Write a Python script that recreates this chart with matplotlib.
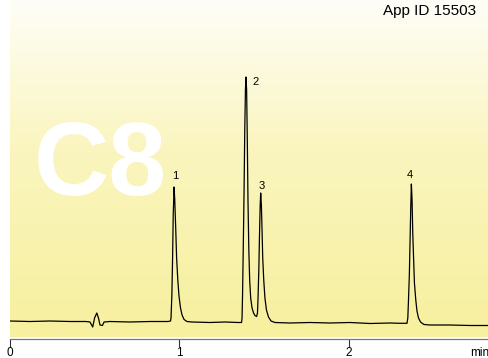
import numpy as np
import matplotlib
matplotlib.use("Agg")
import matplotlib.pyplot as plt
from matplotlib.colors import LinearSegmentedColormap

plt.rcParams['font.family'] = ['Liberation Sans', 'DejaVu Sans']

# chromatogram trace: time (min) and detector signal (arbitrary units)
time_min = [0.000, 0.118, 0.236, 0.354, 0.448, 0.472, 0.488, 0.499, 0.512, 0.522,
            0.531, 0.545, 0.555, 0.590, 0.708, 0.826, 0.932, 0.947,
            0.950, 0.955, 0.959, 0.963, 0.968, 0.972, 0.978, 0.983, 0.990, 0.997,
            1.006, 1.015, 1.027, 1.044, 1.074, 1.180, 1.268, 1.345, 1.366,
            1.369, 1.372, 1.376, 1.381, 1.385, 1.389, 1.392, 1.396, 1.400, 1.404,
            1.409, 1.414, 1.420, 1.428, 1.437, 1.445, 1.455, 1.460,
            1.463, 1.468, 1.472, 1.476, 1.479, 1.483, 1.487, 1.491, 1.497, 1.504,
            1.513, 1.525, 1.540, 1.563, 1.652, 1.770, 1.888, 2.006, 2.124, 2.242,
            2.301, 2.342,
            2.347, 2.351, 2.356, 2.360, 2.364, 2.368, 2.372, 2.376, 2.381, 2.386,
            2.394, 2.401, 2.410, 2.422, 2.442, 2.478, 2.596, 2.714, 2.826]
signal = [16, 15.5, 16, 15.5, 15.5, 15, 10, 19, 24, 19,
          12, 11.5, 15, 15.5, 15, 15.5, 15.5, 16,
          19, 42, 77, 122, 150, 137, 107, 79, 57, 41,
          29, 22, 17.5, 15.5, 15, 14.5, 15, 14.5, 14.5,
          19, 42, 87, 147, 207, 247, 260, 247, 197, 137,
          87, 57, 39, 29, 24, 21.5, 20.5, 24,
          37, 67, 102, 132, 144, 132, 107, 79, 57, 39,
          27, 20, 16, 14.5, 14, 14.5, 14, 14.5, 13.5, 14,
          13.7, 13.7,
          19, 37, 62, 94, 127, 153, 137, 105, 79, 54,
          37, 26, 19, 15, 12.5, 12, 12, 11.5, 11.5]

# peak labels
peak_names = ["1", "2", "3", "4"]
peak_label_t = [0.973, 1.451, 1.487, 2.360]
peak_label_s = [161, 255, 151, 162]

x_ticks = [0, 1, 2]
x_tick_labels = ["0", "1", "2"]

W, H = 489, 358
fig = plt.figure(figsize=(W / 100, H / 100), dpi=100)
fig.patch.set_facecolor('white')
ax = fig.add_axes([10 / W, (H - 337) / H, 479 / W, 337 / H])
ax.set_xlim(0, 479 / 169.5)
ax.set_ylim(0, 337)
ax.patch.set_alpha(0)

# background gradient (cream at top to yellow at bottom)
cmap = LinearSegmentedColormap.from_list(
    'bg', [(0, (247/255, 240/255, 158/255)), (0.55, (250/255, 245/255, 190/255)),
           (1, (254/255, 254/255, 248/255))])
grad = np.linspace(0, 1, 256).reshape(-1, 1)
ax.imshow(grad, cmap=cmap, aspect='auto', origin='lower',
          extent=[0, 1, 0, 1], transform=ax.transAxes, zorder=0)

# big C8 watermark
fig.text(100.5 / W, 1 - 195 / H, "C8", color='white', fontsize=75, fontweight='bold',
         ha='center', va='baseline', zorder=1)

ax.plot(time_min, signal, color='black', lw=0.9, zorder=3)

for name, t, s in zip(peak_names, peak_label_t, peak_label_s):
    ax.text(t, s, name, fontsize=8, ha='center', va='center', zorder=4)

for sp in ['top', 'left', 'right']:
    ax.spines[sp].set_visible(False)
ax.spines['bottom'].set_position(('outward', 1.5))
ax.spines['bottom'].set_color('#777777')
ax.spines['bottom'].set_linewidth(0.9)
ax.set_yticks([])
ax.set_xticks(x_ticks)
ax.set_xticklabels(x_tick_labels)
ax.tick_params(axis='x', direction='out', length=6, width=0.8, color='#333333',
               labelsize=8.5, pad=-0.5)

fig.text(470 / W, 1.5 / H, "min", fontsize=8.5, ha='left', va='baseline')

fig.text(476 / W, 1 - 11 / H, "App ID 15503", fontsize=11, ha='right', va='center')

fig.savefig('out.png', dpi=100)
